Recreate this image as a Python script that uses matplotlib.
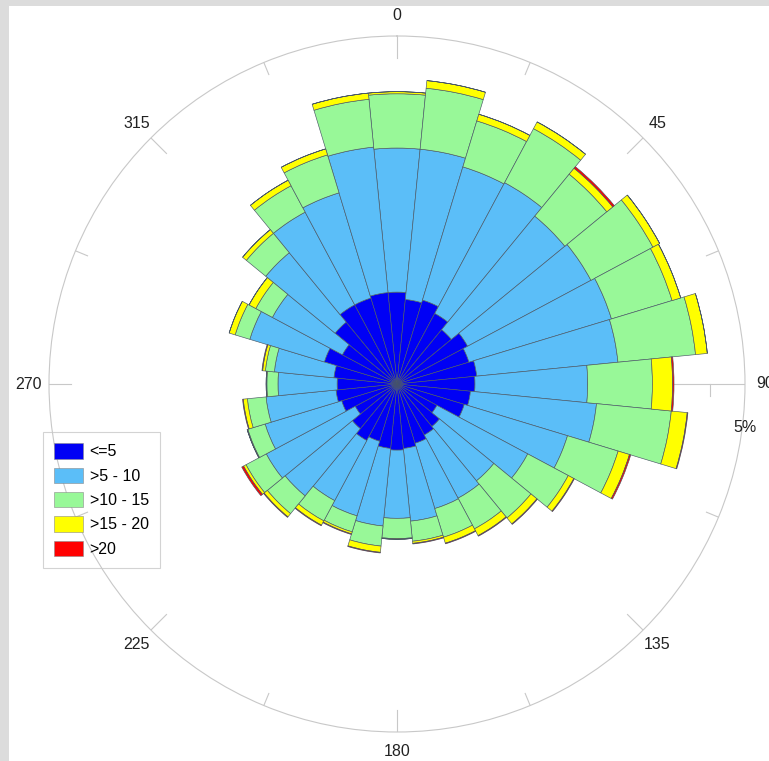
import numpy as np
import matplotlib
matplotlib.use("Agg")
import matplotlib.pyplot as plt
from matplotlib.patches import Patch, Rectangle

plt.rcParams["font.family"] = ["Liberation Sans", "DejaVu Sans"]

# 32 direction sectors (degrees, clockwise from north)
directions = np.arange(32) * 11.25

# Frequency (%) of each wind-speed class per direction sector
freq_le5 = [1.32, 1.22, 1.26, 1.15, 1.01, 1.15, 1.08, 1.15, 1.12, 1.06, 1.01, 0.65,
            0.79, 0.83, 0.89, 0.93, 0.95, 0.93, 0.86, 0.92, 0.83, 0.68, 0.83, 0.88,
            0.86, 0.91, 1.09, 0.89, 1.15, 1.29, 1.29, 1.32]
freq_5_10 = [2.07, 2.17, 2.00, 2.13, 2.11, 2.01, 2.14, 2.04, 1.62, 1.82, 1.55, 1.48,
             1.01, 1.03, 0.98, 1.05, 0.98, 1.12, 1.12, 0.98, 1.25, 1.45, 1.15, 1.01,
             0.85, 0.86, 1.12, 1.14, 1.29, 1.51, 1.58, 2.10]
freq_10_15 = [0.78, 0.88, 0.69, 0.88, 0.78, 1.01, 0.91, 1.12, 0.93, 1.08, 0.76, 0.66,
              0.69, 0.50, 0.43, 0.29, 0.29, 0.29, 0.24, 0.33, 0.33, 0.33, 0.26, 0.27,
              0.16, 0.13, 0.22, 0.27, 0.36, 0.43, 0.57, 0.69]
freq_15_20 = [0.03, 0.11, 0.10, 0.11, 0.11, 0.11, 0.13, 0.17, 0.29, 0.23, 0.17, 0.09,
              0.11, 0.11, 0.09, 0.03, 0.01, 0.09, 0.03, 0.07, 0.06, 0.04, 0.01, 0.06,
              0.01, 0.04, 0.09, 0.11, 0.07, 0.09, 0.09, 0.09]
freq_gt20 = [0.00, 0.00, 0.00, 0.00, 0.03, 0.00, 0.00, 0.00, 0.02, 0.01, 0.02, 0.01,
             0.01, 0.01, 0.01, 0.01, 0.00, 0.01, 0.01, 0.01, 0.01, 0.03, 0.00, 0.01,
             0.00, 0.01, 0.00, 0.00, 0.00, 0.00, 0.00, 0.00]

speed_labels = ["<=5", ">5 - 10", ">10 - 15", ">15 - 20", ">20"]
speed_colors = ["#0000F5", "#5BBEF8", "#98F898", "#FFFF00", "#FF0000"]

angle_labels = [0, 45, 90, 135, 180, 225, 270, 315]
r_max = 5.0
r_tick = 4.5
freq_label = "5%"

W, H = 769, 761
fig = plt.figure(figsize=(W / 100, H / 100), dpi=100, facecolor="#dcdcdc")
fig.add_artist(Rectangle((9 / W, 0), 1 - 9 / W, 1 - 6 / H, transform=fig.transFigure,
                         facecolor="white", edgecolor="none", zorder=-10))

cx, cy, R = 397, 384, 348
ax = fig.add_axes([(cx - R) / W, (H - cy - R) / H, 2 * R / W, 2 * R / H],
                  projection="polar")
ax.set_theta_zero_location("N")
ax.set_theta_direction(-1)
ax.set_ylim(0, r_max)
ax.grid(False)
ax.set_xticks([])
ax.set_yticks([])
ax.patch.set_alpha(0)
ax.spines["polar"].set_color("#c8c8c8")
ax.spines["polar"].set_linewidth(0.8)

grid_col = "#c8c8c8"
px = r_max / R  # data units per pixel

# ticks on the outer circle
for a in np.arange(0, 360, 22.5):
    if a == 90:
        continue
    L = 22 * px if a % 45 == 0 else 13 * px
    ax.plot([np.deg2rad(a)] * 2, [r_max - L, r_max], color=grid_col, lw=0.8, zorder=1)

# radial frequency axis along 90 degrees
ax.plot([np.deg2rad(90)] * 2, [0, r_max], color=grid_col, lw=0.8, zorder=1)
off = 12 * px
ax.plot([np.deg2rad(90), np.deg2rad(90) + np.arctan2(off, r_tick)],
        [r_tick, np.hypot(r_tick, off)], color=grid_col, lw=0.8, zorder=1)

# stacked sectors
theta = np.deg2rad(directions)
width = 2 * np.pi / len(directions)
bottom = np.zeros(len(directions))
for vals, col in zip([freq_le5, freq_5_10, freq_10_15, freq_15_20, freq_gt20], speed_colors):
    vals = np.asarray(vals)
    ax.bar(theta, vals, width=width, bottom=bottom, color=col,
           edgecolor="#4a5866", linewidth=0.45, zorder=3)
    bottom = bottom + vals

# direction labels
for a in angle_labels:
    ax.text(np.deg2rad(a), r_max + 20 * px, str(a), ha="center", va="center",
            fontsize=11.5, color="#222222", clip_on=False)
ax.text(np.deg2rad(97.2), r_max + 3 * px, freq_label, ha="center", va="center",
        fontsize=11.5, color="#222222", clip_on=False)

handles = [Patch(facecolor=c, edgecolor="#8a8a8a", linewidth=0.4) for c in speed_colors]
leg = fig.legend(handles, speed_labels, loc="upper left",
                 bbox_to_anchor=(43 / W, 1 - 432 / H), bbox_transform=fig.transFigure,
                 fontsize=11.5, frameon=True, fancybox=False, borderaxespad=0,
                 handlelength=1.8, handleheight=1.1, handletextpad=0.42,
                 labelspacing=0.52, borderpad=0.7)
frame = leg.get_frame()
frame.set_facecolor("none")
frame.set_edgecolor("#c8c8c8")
frame.set_linewidth(0.8)

fig.savefig("out.png", dpi=100, facecolor=fig.get_facecolor())
